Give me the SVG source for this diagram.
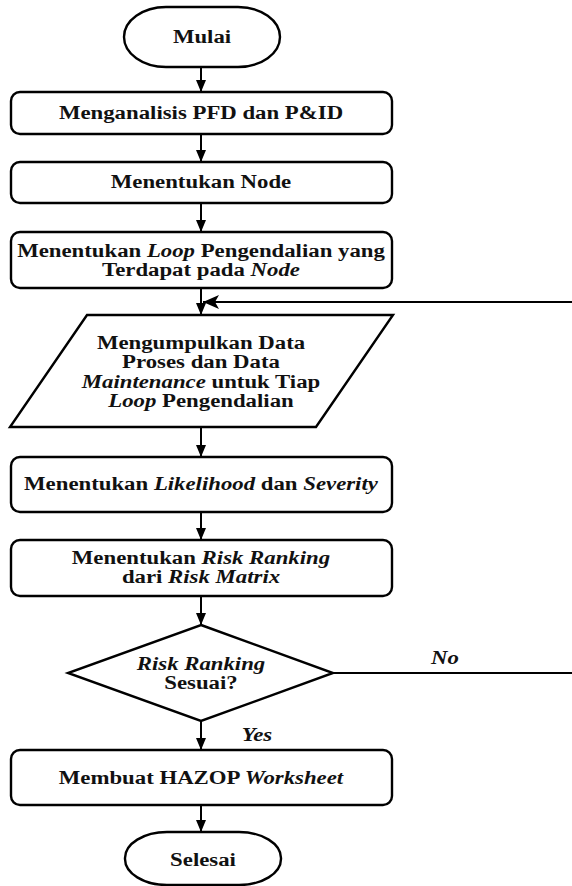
<svg xmlns="http://www.w3.org/2000/svg" width="572" height="886" viewBox="0 0 572 886">
<style>
.s{fill:#fff;stroke:#000;stroke-width:2.4}
.l{fill:none;stroke:#000;stroke-width:2}
.t{font-family:"Liberation Serif","Times New Roman",serif;font-weight:bold;font-size:19px;fill:#111;text-anchor:middle}
.i{font-style:italic}
</style>
<defs>
<marker id="ah" markerUnits="userSpaceOnUse" markerWidth="12" markerHeight="12" viewBox="0 0 12 12" refX="12" refY="6" orient="auto">
<path d="M0,1 L12,6 L0,11 Z" fill="#000"/>
</marker>
<marker id="ab" markerUnits="userSpaceOnUse" markerWidth="16" markerHeight="14" viewBox="0 0 16 14" refX="16" refY="7" orient="auto">
<path d="M0,0 L16,7 L0,14 L4,7 Z" fill="#000"/>
</marker>
</defs>
<rect width="572" height="886" fill="#fff"/>
<g id="connectors">
<line class="l" x1="201" y1="67" x2="201" y2="92" marker-end="url(#ah)"/>
<line class="l" x1="201" y1="134" x2="201" y2="162" marker-end="url(#ah)"/>
<line class="l" x1="201" y1="203" x2="201" y2="232" marker-end="url(#ah)"/>
<line class="l" x1="201" y1="288" x2="201" y2="315" marker-end="url(#ah)"/>
<line class="l" x1="572" y1="302" x2="203" y2="302" marker-end="url(#ab)"/>
<line class="l" x1="201" y1="427" x2="201" y2="457" marker-end="url(#ah)"/>
<line class="l" x1="201" y1="512" x2="201" y2="540" marker-end="url(#ah)"/>
<line class="l" x1="201" y1="596" x2="201" y2="625" marker-end="url(#ah)"/>
<line class="l" x1="333" y1="673" x2="572" y2="673"/>
<line class="l" x1="201" y1="721" x2="201" y2="750" marker-end="url(#ah)"/>
<line class="l" x1="201" y1="805" x2="201" y2="832" marker-end="url(#ah)"/>
<text class="t i" transform="translate(445,664) scale(1.2,1)">No</text>
<text class="t i" transform="translate(257,741) scale(1.2,1)">Yes</text>
</g>
<g id="mulai">
<rect class="s" x="124" y="7" width="156" height="60" rx="42" ry="30"/>
<text class="t" transform="translate(202,43) scale(1.2,1)">Mulai</text>
</g>
<g id="analisis">
<rect class="s" x="11" y="92" width="381" height="42" rx="9"/>
<text class="t" transform="translate(201,119) scale(1.2,1)">Menganalisis PFD dan P&amp;ID</text>
</g>
<g id="node">
<rect class="s" x="11" y="162" width="381" height="41" rx="9"/>
<text class="t" transform="translate(201,188) scale(1.2,1)">Menentukan Node</text>
</g>
<g id="loop">
<rect class="s" x="11" y="232" width="381" height="56" rx="9"/>
<text class="t" transform="translate(201,257) scale(1.2,1)">Menentukan <tspan class="i">Loop</tspan> Pengendalian yang</text>
<text class="t" transform="translate(201,276) scale(1.2,1)">Terdapat pada <tspan class="i">Node</tspan></text>
</g>
<g id="data">
<polygon class="s" points="87,315 393,315 316,427 10,427"/>
<text class="t" transform="translate(201,349) scale(1.2,1)">Mengumpulkan Data</text>
<text class="t" transform="translate(201,368) scale(1.2,1)">Proses dan Data</text>
<text class="t" transform="translate(201,388) scale(1.2,1)"><tspan class="i">Maintenance</tspan> untuk Tiap</text>
<text class="t" transform="translate(201,407) scale(1.2,1)"><tspan class="i">Loop</tspan> Pengendalian</text>
</g>
<g id="likelihood">
<rect class="s" x="11" y="457" width="381" height="55" rx="9"/>
<text class="t" transform="translate(201,490) scale(1.2,1)">Menentukan <tspan class="i">Likelihood</tspan> dan <tspan class="i">Severity</tspan></text>
</g>
<g id="ranking">
<rect class="s" x="11" y="540" width="381" height="56" rx="9"/>
<text class="t" transform="translate(201,564) scale(1.2,1)">Menentukan <tspan class="i">Risk Ranking</tspan></text>
<text class="t" transform="translate(201,583) scale(1.2,1)">dari <tspan class="i">Risk Matrix</tspan></text>
</g>
<g id="sesuai">
<polygon class="s" points="201,625 333,673 201,721 68,673"/>
<text class="t" transform="translate(201,670) scale(1.2,1)"><tspan class="i">Risk Ranking</tspan></text>
<text class="t" transform="translate(201,689) scale(1.2,1)">Sesuai?</text>
</g>
<g id="hazop">
<rect class="s" x="11" y="750" width="381" height="55" rx="9"/>
<text class="t" transform="translate(201,784) scale(1.2,1)">Membuat HAZOP <tspan class="i">Worksheet</tspan></text>
</g>
<g id="selesai">
<rect class="s" x="125" y="832" width="156" height="53" rx="42" ry="26"/>
<text class="t" transform="translate(203,866) scale(1.2,1)">Selesai</text>
</g>
</svg>
